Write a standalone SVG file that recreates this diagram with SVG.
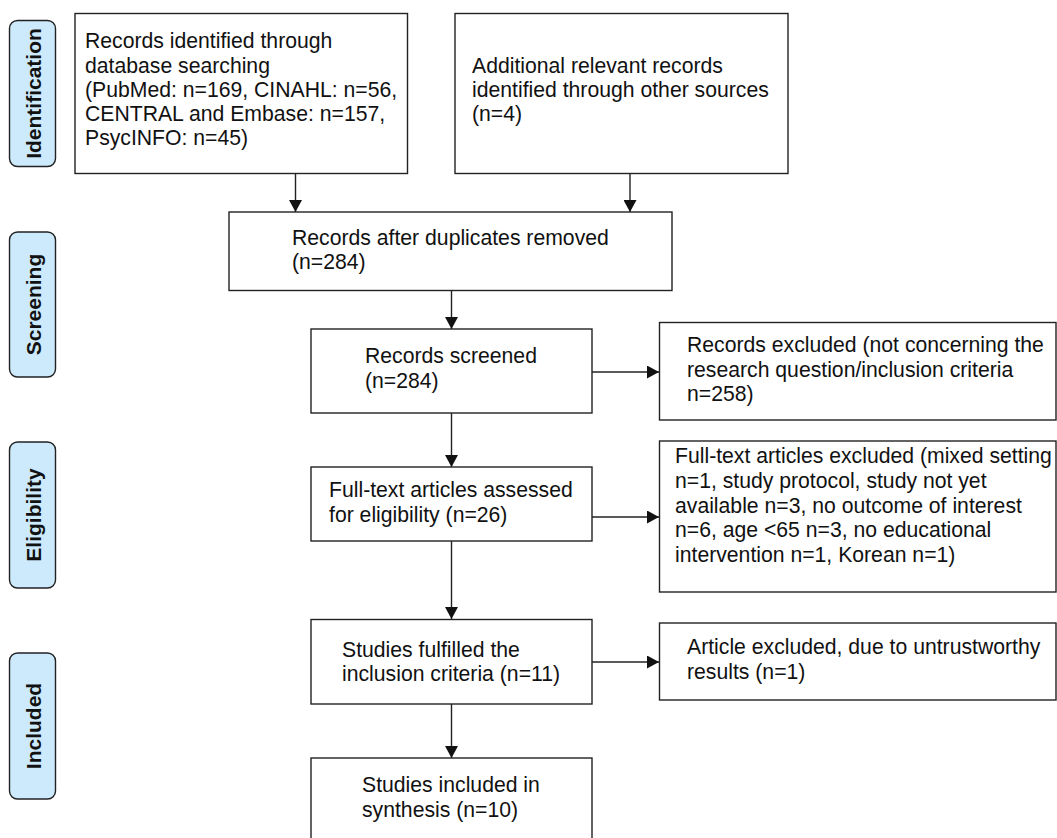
<svg xmlns="http://www.w3.org/2000/svg" width="1057" height="838" viewBox="0 0 1057 838">
<style>
.box{fill:#fff;stroke:#222;stroke-width:1.4}
.lab{fill:#cdeafc;stroke:#222;stroke-width:1.4}
.t{font-family:"Liberation Sans",Arial,sans-serif;font-size:21.2px;fill:#111}
.s{font-family:"Liberation Sans",Arial,sans-serif;font-size:21px;font-weight:bold;fill:#111}
.c{stroke:#222;stroke-width:1.4;fill:none;marker-end:url(#ah)}
</style>
<defs>
<marker id="ah" markerUnits="userSpaceOnUse" markerWidth="13" markerHeight="13" refX="12" refY="6.5" orient="auto">
<path d="M0,0 L12,6.5 L0,13 Z" fill="#111"/>
</marker>
</defs>
<rect width="1057" height="838" fill="#fff"/>
<g id="stage-identification"><rect class="lab" x="9.5" y="20.5" width="46" height="146" rx="8"/><text class="s" transform="translate(40.5,93.5) rotate(-90)" text-anchor="middle">Identification</text></g>
<g id="stage-screening"><rect class="lab" x="9.5" y="232" width="46" height="145" rx="8"/><text class="s" transform="translate(40.5,304.5) rotate(-90)" text-anchor="middle">Screening</text></g>
<g id="stage-eligibility"><rect class="lab" x="9.5" y="442" width="46" height="146" rx="8"/><text class="s" transform="translate(40.5,515) rotate(-90)" text-anchor="middle">Eligibility</text></g>
<g id="stage-included"><rect class="lab" x="9.5" y="653" width="46" height="146" rx="8"/><text class="s" transform="translate(40.5,726) rotate(-90)" text-anchor="middle">Included</text></g>
<g id="connectors">
<line class="c" x1="295.5" y1="173" x2="295.5" y2="212"/>
<line class="c" x1="630" y1="173" x2="630" y2="212"/>
<line class="c" x1="451.5" y1="290" x2="451.5" y2="329"/>
<line class="c" x1="451.5" y1="413" x2="451.5" y2="467"/>
<line class="c" x1="451.5" y1="541" x2="451.5" y2="619"/>
<line class="c" x1="451.5" y1="704" x2="451.5" y2="758"/>
<line class="c" x1="592" y1="372" x2="659" y2="372"/>
<line class="c" x1="592" y1="517" x2="659" y2="517"/>
<line class="c" x1="592" y1="662" x2="659" y2="662"/>
</g>
<g id="records-identified"><rect class="box" x="75" y="13.5" width="332.5" height="160"/><text class="t" x="85" y="48.3">Records identified through</text><text class="t" x="85" y="72.7">database searching</text><text class="t" x="85" y="96.9">(PubMed: n=169, CINAHL: n=56,</text><text class="t" x="85" y="121.1">CENTRAL and Embase: n=157,</text><text class="t" x="85" y="145.4">PsycINFO: n=45)</text></g>
<g id="additional-records"><rect class="box" x="455" y="13.5" width="333" height="160"/><text class="t" x="472" y="72.7">Additional relevant records</text><text class="t" x="472" y="96.9">identified through other sources</text><text class="t" x="472" y="121.1">(n=4)</text></g>
<g id="after-duplicates"><rect class="box" x="229" y="212" width="443" height="78.5"/><text class="t" x="292" y="244.5">Records after duplicates removed</text><text class="t" x="292" y="269.3">(n=284)</text></g>
<g id="screened"><rect class="box" x="311" y="329" width="281" height="84"/><text class="t" x="365" y="363.3">Records screened</text><text class="t" x="365" y="388.3">(n=284)</text></g>
<g id="records-excluded"><rect class="box" x="659.5" y="322.5" width="396.5" height="97.5"/><text class="t" x="687" y="351.7">Records excluded (not concerning the</text><text class="t" x="687" y="376.5">research question/inclusion criteria</text><text class="t" x="687" y="401">n=258)</text></g>
<g id="full-text-assessed"><rect class="box" x="311" y="467" width="281" height="74"/><text class="t" x="329" y="496.7">Full-text articles assessed</text><text class="t" x="329" y="521.7">for eligibility (n=26)</text></g>
<g id="full-text-excluded"><rect class="box" x="659.5" y="441" width="396.5" height="151"/><text class="t" x="675" y="463.3">Full-text articles excluded (mixed setting</text><text class="t" x="675" y="488">n=1, study protocol, study not yet</text><text class="t" x="675" y="512.5">available n=3, no outcome of interest</text><text class="t" x="675" y="537">n=6, age &lt;65 n=3, no educational</text><text class="t" x="675" y="561.5">intervention n=1, Korean n=1)</text></g>
<g id="fulfilled"><rect class="box" x="311" y="619.5" width="281" height="84.5"/><text class="t" x="342" y="656.5">Studies fulfilled the</text><text class="t" x="342" y="681">inclusion criteria (n=11)</text></g>
<g id="article-excluded"><rect class="box" x="659.5" y="623" width="396.5" height="77"/><text class="t" x="687" y="654.3">Article excluded, due to untrustworthy</text><text class="t" x="687" y="679">results (n=1)</text></g>
<g id="included"><rect class="box" x="311" y="758" width="281" height="90"/><text class="t" x="362" y="791.7">Studies included in</text><text class="t" x="362" y="816.5">synthesis (n=10)</text></g>
</svg>
